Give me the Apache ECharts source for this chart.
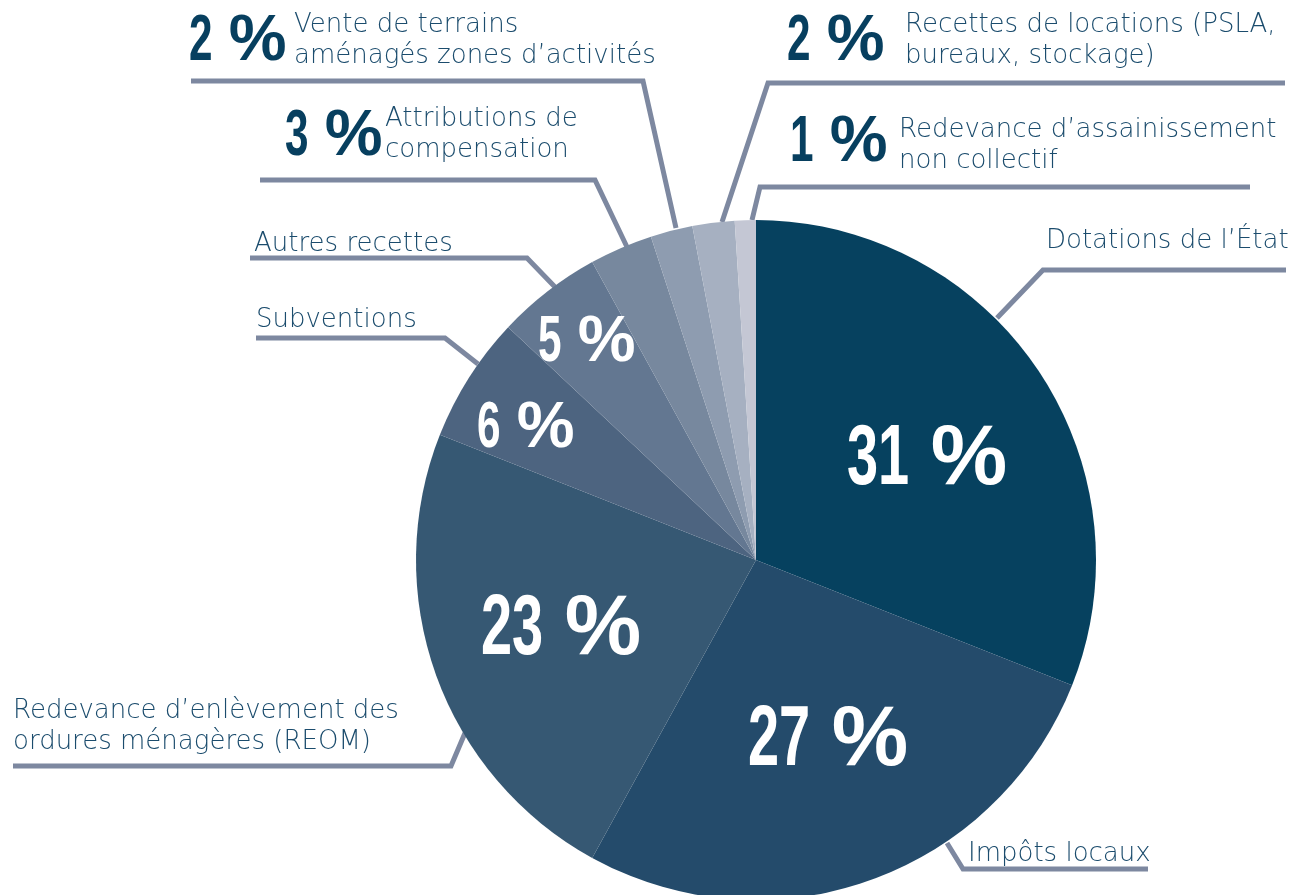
<!DOCTYPE html>
<html><head><meta charset="utf-8">
<script src="https://cdn.jsdelivr.net/npm/echarts@6/dist/echarts.min.js"></script>
<style>html,body{margin:0;padding:0;background:#fff}#c{width:1291px;height:895px}</style>
</head><body><div id="c"></div>
<script>
// ---- data ----
const categories = [
  "Dotations de l’État",
  "Impôts locaux",
  "Redevance d’enlèvement des\nordures ménagères (REOM)",
  "Subventions",
  "Autres recettes",
  "Attributions de\ncompensation",
  "Vente de terrains\naménagés zones d’activités",
  "Recettes de locations (PSLA,\nbureaux, stockage)",
  "Redevance d’assainissement\nnon collectif"
];
const values = [31, 27, 23, 6, 5, 3, 2, 2, 1];

// ---- styles ----
const colors = ["#06415f", "#244b6b", "#365873", "#4d6480", "#637791", "#77889e", "#8e9cb0", "#a6b0c1", "#c4c7d4"];
const pctInside = [true, true, true, true, true, false, false, false, false];
const pctFont = [86, 86, 86, 65, 65, 65, 65, 65, 65];

// ---- annotation layout (label anchors, leader lines) ----
// [left x of the number, vertical centre]
const pctPos = [[847, 460], [748, 741], [481, 630], [477, 429], [538, 343], [285, 137], [189, 42], [787, 42], [790, 143]];
const namePos = [[1046, 241], [968, 854], [13, 727], [256, 320], [254, 244], [385, 135], [294, 41], [905, 41], [899, 146]];
const leaders = [
  [[997, 318], [1043, 270], [1286, 270]],
  [[947, 843], [963, 869], [1148, 869]],
  [[465, 733], [451, 766], [13, 766]],
  [[478, 364], [445, 338], [256, 338]],
  [[555, 287], [527, 258], [250, 258]],
  [[627, 247], [595, 180], [260, 180]],
  [[676, 228], [643, 81], [191, 81]],
  [[722, 222], [768, 83], [1285, 83]],
  [[752, 220], [760, 187], [1250, 187]]
];

const boldFamily = '"Liberation Sans", Arial, sans-serif';
const thin = '"DejaVu Sans ExtraLight", "DejaVu Sans", sans-serif';
const DIGIT_SX = 0.65, PCT_SX = 1.0;

const pieData = categories.map((n, i) => ({ name: n, value: values[i], itemStyle: { color: colors[i] } }));
const nameData = categories.map((n, i) => ({ name: n, value: values[i] }));

// percentage labels built from the values (condensed look through horizontal scaling)
const pctGraphics = [];
values.forEach((v, i) => {
  const F = pctFont[i];
  const s = String(v);
  const fill = pctInside[i] ? '#ffffff' : '#073f5f';
  const font = 'bold ' + F + 'px ' + boldFamily;
  const x0 = pctPos[i][0], y0 = pctPos[i][1];
  const numW = s.length * 0.556 * F * DIGIT_SX;
  pctGraphics.push({
    type: 'text', x: x0, y: y0, scaleX: DIGIT_SX, silent: true, z: 100,
    style: { text: s, font: font, fill: fill, align: 'left', verticalAlign: 'middle' }
  });
  pctGraphics.push({
    type: 'text', x: x0 + numW + 0.25 * F, y: y0, scaleX: PCT_SX, silent: true, z: 100,
    style: { text: '%', font: font, fill: fill, align: 'left', verticalAlign: 'middle' }
  });
});

const chart = echarts.init(document.getElementById('c'), null, { renderer: 'canvas' });
chart.setOption({
  animation: false,
  backgroundColor: '#ffffff',
  graphic: { elements: pctGraphics },
  series: [
    {
      type: 'pie', center: [756, 560], radius: 340, startAngle: 90, clockwise: true,
      avoidLabelOverlap: false, silent: true,
      itemStyle: { borderWidth: 0 },
      label: { show: false },
      labelLine: { show: false },
      data: pieData
    },
    {
      type: 'pie', center: [756, 560], radius: 340, startAngle: 90, clockwise: true,
      avoidLabelOverlap: false, minShowLabelAngle: 0, silent: true, z: 1,
      itemStyle: { color: 'rgba(0,0,0,0)' },
      label: {
        show: true, position: 'outside', formatter: '{b}',
        fontFamily: thin, fontWeight: 200, fontSize: 26, lineHeight: 31, color: '#1b4c6d', align: 'left'
      },
      labelLine: { show: true, length: 10, length2: 10, lineStyle: { color: '#7d88a0', width: 5 } },
      labelLayout: p => ({
        x: namePos[p.dataIndex][0], y: namePos[p.dataIndex][1], align: 'left', verticalAlign: 'middle',
        labelLinePoints: leaders[p.dataIndex]
      }),
      data: nameData
    }
  ]
});
</script></body></html>
